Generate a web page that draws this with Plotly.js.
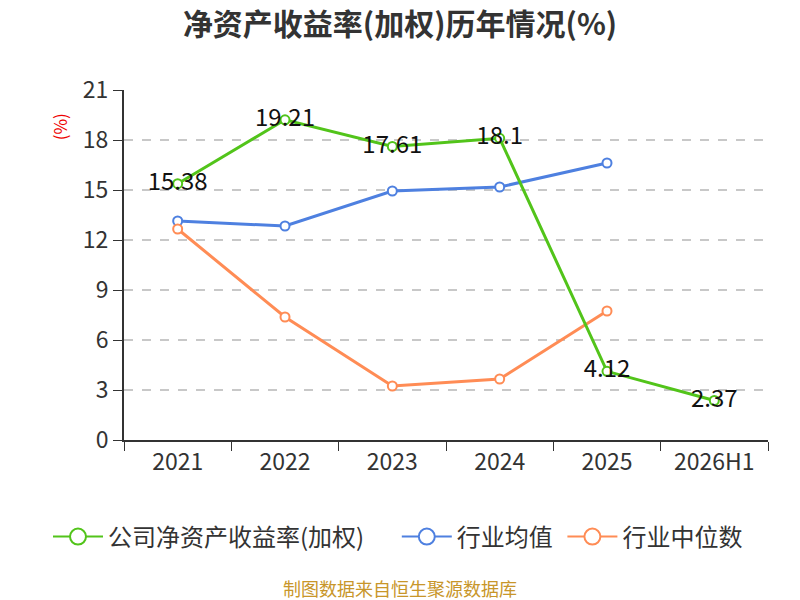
<!DOCTYPE html>
<html><head><meta charset="utf-8">
<script src="https://cdn.plot.ly/plotly-3.0.1.min.js"></script>
<style>body{margin:0;background:#fff}#c{width:800px;height:600px}</style>
</head><body><div id="c"></div>
<script>
const categories = ["2021","2022","2023","2024","2025","2026H1"];
const companyROE = [15.38, 19.21, 17.61, 18.1, 4.12, 2.37];
const industryAvg = [13.14, 12.84, 14.94, 15.18, 16.62, null];
const industryMedian = [12.66, 7.38, 3.24, 3.66, 7.74, null];
const seriesNames = ["公司净资产收益率(加权)", "行业均值", "行业中位数"];
const yTicks = [0,3,6,9,12,15,18,21];

const colors = ["#52c41a", "#4e80e0", "#ff8c55"];
const font = "'Noto Sans CJK SC', 'Noto Sans', sans-serif";
const legendIds = ["legend", "legend2", "legend3"];
const legendX = [0.06, 0.496, 0.703];

function line(y, i, withText) {
  return {
    x: categories, y: y, type: "scatter",
    mode: withText ? "lines+markers+text" : "lines+markers",
    text: withText ? y.map(String) : undefined,
    textposition: "middle center",
    textfont: {size: 24, color: "#111", family: font},
    line: {color: colors[i], width: 3},
    marker: {size: 9, color: "#fff", line: {color: colors[i], width: 2}},
    showlegend: false, cliponaxis: false, hoverinfo: "x+y"
  };
}
function legendTrace(i) {
  return {
    x: [null], y: [null], type: "scatter", mode: "lines+markers",
    name: seriesNames[i], legend: legendIds[i],
    line: {color: colors[i], width: 2},
    marker: {size: 16, color: "#fff", line: {color: colors[i], width: 2}}
  };
}
function legendBox(i) {
  return {orientation: "h", xref: "container", yref: "container", x: legendX[i], xanchor: "left",
          y: 0.105, yanchor: "middle", bgcolor: "rgba(0,0,0,0)",
          font: {size: 24, color: "#333", family: font}, itemwidth: 50};
}
const data = [
  line(industryAvg, 1, false),
  line(industryMedian, 2, false),
  line(companyROE, 0, true),
  legendTrace(0), legendTrace(1), legendTrace(2)
];
const layout = {
  width: 800, height: 600,
  margin: {l: 124, r: 32, t: 90, b: 160},
  paper_bgcolor: "#fff", plot_bgcolor: "#fff",
  font: {family: font, color: "#333"},
  title: {text: "<b>净资产收益率(加权)历年情况(%)</b>", x: 0.5, xanchor: "center", y: 0.96, yanchor: "middle",
          font: {size: 30, color: "#333", family: font}},
  xaxis: {
    type: "category", range: [-0.5, 5.5], tickson: "boundaries", ticks: "outside", ticklen: 9, tickcolor: "#333",
    showline: true, linecolor: "#333", linewidth: 2, showgrid: false,
    tickfont: {size: 23, color: "#333", family: font}, fixedrange: true
  },
  yaxis: {
    range: [0, 21], tickvals: yTicks, ticktext: yTicks.map(String),
    ticks: "outside", ticklen: 9, tickcolor: "#333",
    showline: true, linecolor: "#333", linewidth: 2,
    showgrid: true, gridcolor: "#c8c8c8", griddash: "dash", gridwidth: 1.5,
    zeroline: false, tickfont: {size: 23, color: "#333", family: font}, fixedrange: true
  },
  legend: legendBox(0), legend2: legendBox(1), legend3: legendBox(2),
  annotations: [
    {text: "(%)", xref: "paper", yref: "paper", x: -0.1, xanchor: "center", y: 0.895, yanchor: "middle", textangle: -90,
     showarrow: false, font: {size: 17, color: "#e00", family: font}},
    {text: "制图数据来自恒生聚源数据库", xref: "paper", yref: "paper", x: (400 - 124) / 644, xanchor: "center", y: -0.423, yanchor: "middle",
     showarrow: false, font: {size: 18, color: "#c8962a", family: font}}
  ]
};
Plotly.newPlot("c", data, layout, {displayModeBar: false, staticPlot: true});
</script></body></html>
